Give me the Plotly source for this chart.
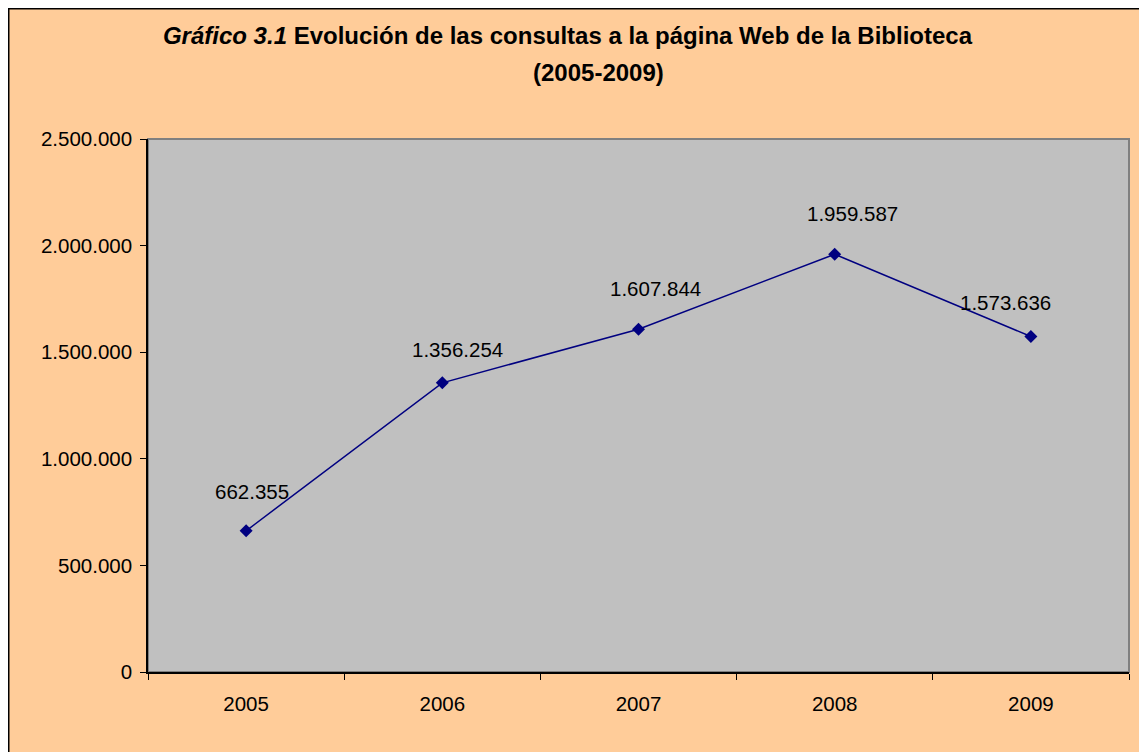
import plotly.graph_objects as go

# ---- data ----
years = ["2005", "2006", "2007", "2008", "2009"]
consultas = [662355, 1356254, 1607844, 1959587, 1573636]
y_ticks = [0, 500000, 1000000, 1500000, 2000000, 2500000]

title_line1 = "<b><i>Gráfico 3.1</i> Evolución de las consultas a la página Web de la Biblioteca</b>"
title_line2 = "<b>(2005-2009)</b>"

# ---- style ----
W, H = 1147, 752
ML, MR, MT, MB = 140, 26, 131, 88
PW, PH = W - ML - MR, H - MT - MB
FONT = "Liberation Sans, Arial, sans-serif"
PEACH = "#FFCC99"
GRAY = "#C0C0C0"
NAVY = "#000080"
TICK_SIZE = 20.5
TITLE_SIZE = 24
# label offsets in pixels (dx, dy) relative to each point
label_dx = [6, 15, 17, 18, -25]
label_dy = [39, 33, 41, 41, 34]


def fmt(v):
    return f"{v:,}".replace(",", ".")


def px_x(p):
    return (p - ML) / PW


def px_y(p):
    return (H - MB - p) / PH


fig = go.Figure()
fig.add_trace(go.Scatter(
    x=years, y=consultas, mode="lines+markers",
    line=dict(color=NAVY, width=1.5),
    marker=dict(symbol="diamond", size=10, color=NAVY),
    hoverinfo="x+y", showlegend=False, cliponaxis=False,
))

for i, (v, dx, dy) in enumerate(zip(consultas, label_dx, label_dy)):
    fig.add_annotation(x=i, y=v, xref="x", yref="y", text=fmt(v), showarrow=False,
                       xshift=dx, yshift=dy, xanchor="center", yanchor="middle",
                       font=dict(family=FONT, size=TICK_SIZE, color="black"))

fig.add_annotation(text=title_line2, xref="paper", yref="paper",
                   x=px_x(590.5), y=px_y(64.5), showarrow=False,
                   xanchor="center", yanchor="middle",
                   font=dict(family=FONT, size=TITLE_SIZE, color="black"))

shapes = [
    # plot frame (gray, top/right visible)
    dict(type="rect", xref="paper", yref="paper", x0=0, x1=1, y0=0, y1=1,
         line=dict(color="#808080", width=2), fillcolor="rgba(0,0,0,0)", layer="below"),
    # outer chart border
    dict(type="rect", xref="paper", yref="paper", x0=px_x(0.75), x1=px_x(W + 20),
         y0=px_y(H + 20), y1=px_y(0.75),
         line=dict(color="black", width=1.5), fillcolor="rgba(0,0,0,0)", layer="above"),
]

fig.update_layout(
    width=W, height=H,
    margin=dict(l=ML, r=MR, t=MT, b=MB, autoexpand=False),
    paper_bgcolor=PEACH, plot_bgcolor=GRAY,
    separators=",.",
    font=dict(family=FONT, size=TICK_SIZE, color="black"),
    title=dict(text=title_line1, x=559.5 / W, xref="container", xanchor="center",
               y=1 - 28 / H, yref="container", yanchor="middle",
               font=dict(family=FONT, size=TITLE_SIZE, color="black")),
    shapes=shapes,
    xaxis=dict(type="category", range=[-0.5, 4.5], showgrid=False, zeroline=False,
               showline=True, linecolor="black", linewidth=1.5, mirror=False,
               ticks="outside", ticklen=6, tickcolor="black", tickwidth=1,
               tickson="boundaries", ticklabelstandoff=13,
               tickfont=dict(family=FONT, size=TICK_SIZE, color="black"), fixedrange=True),
    yaxis=dict(range=[0, 2500000], tickvals=y_ticks, tickformat=",.0f",
               showgrid=False, zeroline=False,
               showline=True, linecolor="black", linewidth=1.5,
               ticks="outside", ticklen=6, tickcolor="black", tickwidth=1,
               ticklabelstandoff=4,
               tickfont=dict(family=FONT, size=TICK_SIZE, color="black"), fixedrange=True),
)

fig.write_html("out.html")
